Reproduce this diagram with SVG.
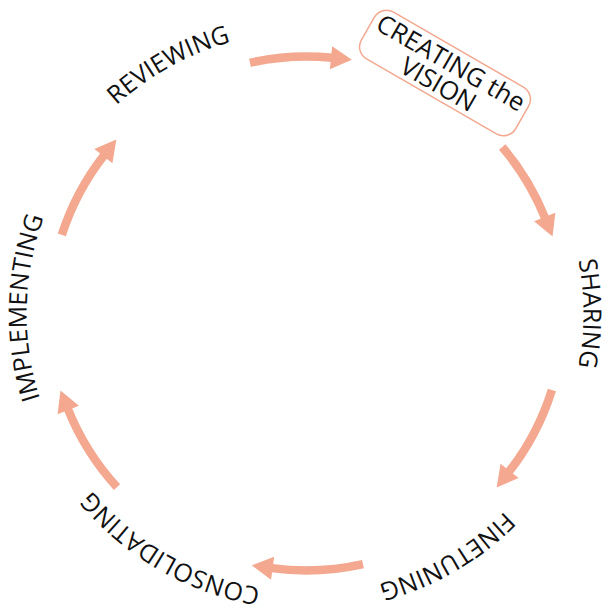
<svg xmlns="http://www.w3.org/2000/svg" width="608" height="610" viewBox="0 0 608 610">
<style>
.lbl{font-family:"Open Sans","Liberation Sans",sans-serif;font-size:25px;fill:#111;}
.arr{fill:none;stroke:#F3A88F;stroke-width:8.5;}
.box{fill:#fff;stroke:#F3A88F;stroke-width:1.5;}
</style>
<defs>
<marker id="ah" markerUnits="userSpaceOnUse" markerWidth="30" markerHeight="30" refX="1" refY="11.5" orient="auto" overflow="visible">
<path d="M0,0 L21,11.5 L0,23 z" fill="#F3A88F"/>
</marker>
<path id="pSharing" d="M401.2 53.2 A277 277 0 0 1 401.2 573.8"/>
<path id="pFine" d="M582.2 264.9 A280 280 0 0 1 126.5 528.0"/>
<path id="pCons" d="M485.2 526.5 A278 278 0 0 1 32.7 265.2"/>
<path id="pImpl" d="M205.3 574.5 A280 280 0 0 1 216.3 48.5"/>
<path id="pRev" d="M28.0 357.6 A282 282 0 0 1 491.5 100.7"/>
</defs>
<g id="connectors">
<path class="arr" d="M250.0 62.8 A257 257 0 0 1 332.0 57.8" marker-end="url(#ah)"/>
<path class="arr" d="M502.2 146.9 A257 257 0 0 1 545.1 218.0" marker-end="url(#ah)"/>
<path class="arr" d="M551.9 389.9 A257 257 0 0 1 509.0 471.7" marker-end="url(#ah)"/>
<path class="arr" d="M363.0 564.2 A257 257 0 0 1 271.6 568.1" marker-end="url(#ah)"/>
<path class="arr" d="M117.0 487.1 A257 257 0 0 1 67.9 409.0" marker-end="url(#ah)"/>
<path class="arr" d="M61.8 234.9 A257 257 0 0 1 104.0 155.3" marker-end="url(#ah)"/>
</g>
<g id="creating" transform="translate(445,73) rotate(30)">
<rect class="box" x="-89" y="-27" width="178" height="54" rx="14"/>
<text class="lbl" text-anchor="middle" style="font-size:25.5px"><tspan x="0" y="-3">CREATING the</tspan><tspan x="0" y="22">VISION</tspan></text>
</g>
<g id="sharing"><text class="lbl" text-anchor="middle"><textPath href="#pSharing" startOffset="50%">SHARING</textPath></text></g>
<g id="finetuning"><text class="lbl" text-anchor="middle"><textPath href="#pFine" startOffset="50%">FINETUNING</textPath></text></g>
<g id="consolidating"><text class="lbl" text-anchor="middle"><textPath href="#pCons" startOffset="50%">CONSOLIDATING</textPath></text></g>
<g id="implementing"><text class="lbl" text-anchor="middle"><textPath href="#pImpl" startOffset="50%">IMPLEMENTING</textPath></text></g>
<g id="reviewing"><text class="lbl" text-anchor="middle"><textPath href="#pRev" startOffset="50%">REVIEWING</textPath></text></g>
</svg>
